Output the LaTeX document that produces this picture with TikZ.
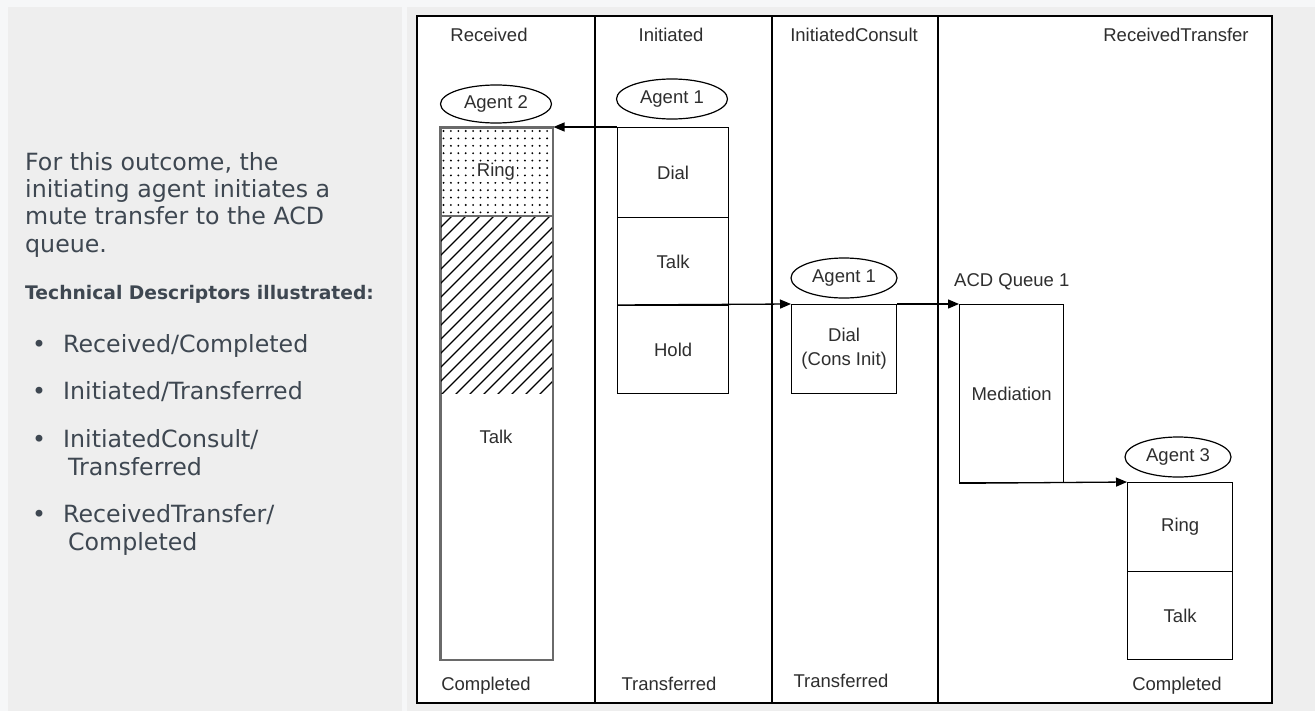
\documentclass[tikz,border=0pt]{standalone}
\usepackage{fontspec}
\setmainfont{Liberation Sans}
\newfontfamily\dejavu{DejaVu Sans}
\usetikzlibrary{shapes.geometric,arrows.meta}
\definecolor{panel}{HTML}{EEEEEE}
\definecolor{pagebg}{HTML}{F6F7F8}
\definecolor{txt}{HTML}{3E4751}
\definecolor{dtxt}{HTML}{2E2E2E}
\definecolor{recgray}{HTML}{6A6A6A}
\begin{document}
\begin{tikzpicture}[x=1bp,y=-1bp,
  dfont/.style={font=\fontsize{18.5bp}{21bp}\selectfont, text=dtxt},
  stbox/.style={draw, line width=1.3bp, dfont, anchor=north west, inner sep=0pt, fill=white},
  agent/.style={ellipse, draw, line width=1.2bp, dfont, inner sep=0pt},
  lane/.style={line width=1.6bp},
  flow/.style={line width=1.3bp, -{Triangle[length=11bp,width=9bp]}},
  ltext/.style={font=\dejavu\fontsize{23.7bp}{27bp}\selectfont, text=txt, anchor=base west, inner sep=0pt},
  lbold/.style={font=\dejavu\bfseries\fontsize{18.7bp}{22bp}\selectfont, text=txt, anchor=base west, inner sep=0pt},
  hdr/.style={dfont, anchor=base, inner sep=0pt}
]
\useasboundingbox (0,0) rectangle (1315,711);
\fill[pagebg] (0,0) rectangle (1315,711);
\fill[panel] (8,7) rectangle (402,711);
\fill[panel] (407,7) rectangle (1315,711);

% ---------- left description ----------
\node[ltext] (l1) at (25,170) {For this outcome, the};
\node[ltext] (l2) at (25,197.5) {initiating agent initiates a};
\node[ltext] (l3) at (25,224.5) {mute transfer to the ACD};
\node[ltext] (l4) at (25,252) {queue.};
\node[lbold] (tdh) at (25,299) {Technical Descriptors illustrated:};
\node[ltext, anchor=base] (b1) at (39,352) {•};
\node[ltext] (d1) at (63,352) {Received/Completed};
\node[ltext, anchor=base] (b2) at (39,399.5) {•};
\node[ltext] (d2) at (63,399.5) {Initiated/Transferred};
\node[ltext, anchor=base] (b3) at (39,447) {•};
\node[ltext] (d3) at (63,447) {InitiatedConsult/};
\node[ltext] (d3b) at (68,475) {Transferred};
\node[ltext, anchor=base] (b4) at (39,522.5) {•};
\node[ltext] (d4) at (63,522.5) {ReceivedTransfer/};
\node[ltext] (d4b) at (68,550) {Completed};

% ---------- diagram frame ----------
\node[draw, line width=1.8bp, fill=white, minimum width=855bp, minimum height=687bp,
      anchor=north west, inner sep=0pt, outer sep=0pt] (frame) at (417,16) {};
\draw[lane] (595,16) -- (595,703);
\draw[lane] (772,16) -- (772,703);
\draw[lane] (938,16) -- (938,703);

% headers
\node[hdr] (hRec) at (489,42) {Received};
\node[hdr] (hIni) at (671,42) {Initiated};
\node[hdr] (hCon) at (854,42) {InitiatedConsult};
\node[hdr] (hRT) at (1176,42) {ReceivedTransfer};

% footers
\node[hdr] (fRec) at (486,690) {Completed};
\node[hdr] (fIni) at (669,690) {Transferred};
\node[hdr] (fCon) at (841,687) {Transferred};
\node[hdr] (fRT) at (1177,690) {Completed};

% ---------- Received (Agent 2) ----------
\node[agent, minimum width=111bp, minimum height=38bp] (ag2) at (496,104) {Agent 2};
\node[draw=recgray, line width=1.5bp, fill=white, anchor=north west, inner sep=0pt,
      minimum width=112bp, minimum height=532bp] (recbar) at (440,127) {};
\begin{scope}
  \clip (440,127) rectangle (552,216);
  \foreach \i in {0,...,15} \foreach \j in {0,...,12}
    \fill (443.5+\i*7.4, 131+\j*7.4) circle (1.05bp);
\end{scope}
\begin{scope}
  \clip (440,216) rectangle (552,393);
  \foreach \k in {-196,-182,...,126}
    \draw[line width=1.1bp] (440+\k,396) -- ++(185,-185);
\end{scope}
\draw[recgray, line width=1.5bp] (recbar.north west) rectangle (recbar.south east);
\draw[recgray, line width=1.4bp] (440,216) -- (552,216);
\node[dfont, fill=white, inner sep=1.5bp] (ringA) at (496,172) {Ring};
\node[dfont] (talkA) at (496,437) {Talk};

% ---------- Initiated (Agent 1) ----------
\node[agent, minimum width=111bp, minimum height=40bp] (ag1) at (672,99) {Agent 1};
\node[stbox, minimum width=111bp, minimum height=90bp] (dial) at (617,127) {Dial};
\node[stbox, minimum width=111bp, minimum height=88bp] (talkB) at (617,217) {Talk};
\node[stbox, minimum width=111bp, minimum height=88bp] (hold) at (617,305) {Hold};

% ---------- InitiatedConsult (Agent 1) ----------
\node[agent, minimum width=106bp, minimum height=40bp] (ag1c) at (844,278) {Agent 1};
\node[stbox, minimum width=105bp, minimum height=89bp, align=center,
      font=\fontsize{18.5bp}{24bp}\selectfont] (cons) at (791,304) {Dial\\(Cons Init)};

% ---------- ReceivedTransfer ----------
\node[dfont, anchor=base west, inner sep=0pt] (acdlbl) at (954,286) {ACD Queue 1};
\node[stbox, minimum width=104bp, minimum height=178bp] (acd) at (959,304) {Mediation};
\node[agent, minimum width=106bp, minimum height=40bp] (ag3) at (1178,457) {Agent 3};
\node[stbox, minimum width=105bp, minimum height=89bp] (ring3) at (1127,482) {Ring};
\node[stbox, minimum width=105bp, minimum height=88bp] (talk3) at (1127,571) {Talk};

% ---------- connectors ----------
\draw[flow] (dial.north west) -- (recbar.north east);
\draw[flow] (hold.north west) -- (cons.north west);
\draw[flow] (cons.north east) -- (acd.north west);
\draw[flow] (acd.south west) -- (ring3.north west);
\end{tikzpicture}
\end{document}
